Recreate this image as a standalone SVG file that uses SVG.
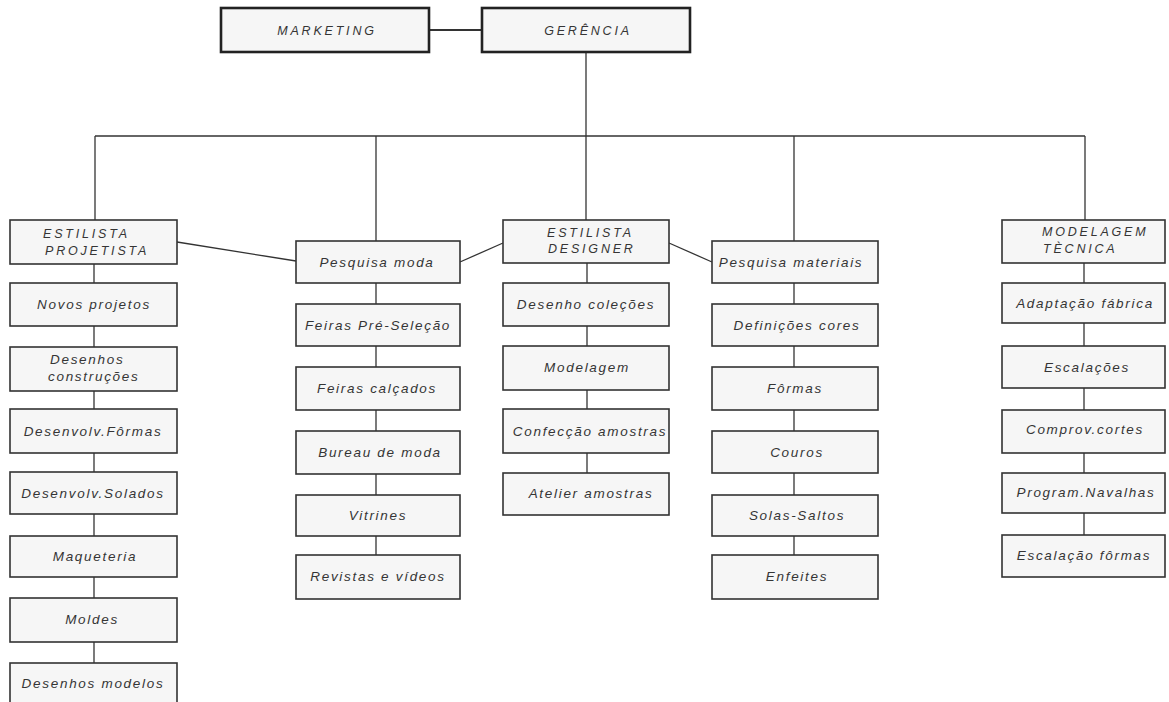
<svg xmlns="http://www.w3.org/2000/svg" width="1169" height="702" viewBox="0 0 1169 702">
<style>
.b{fill:#f6f6f6;stroke:#333;stroke-width:1.6}
.h{fill:#f6f6f6;stroke:#222;stroke-width:2.6}
.t{font-family:"Liberation Sans",Arial,sans-serif;font-style:italic;font-size:13.5px;fill:#353535;text-anchor:middle;letter-spacing:1.7px}
.c{font-family:"Liberation Sans",Arial,sans-serif;font-style:italic;font-size:12.5px;fill:#353535;text-anchor:middle;letter-spacing:2.8px}
.s{text-anchor:start}
.l{fill:none;stroke:#333;stroke-width:1.3}
</style>
<rect width="1169" height="702" fill="#fff"/>
<g id="connectors" class="l">
<line x1="429" y1="30" x2="482" y2="30" stroke-width="2"/>
<line x1="586" y1="52" x2="586" y2="136"/>
<line x1="95" y1="136" x2="1085" y2="136"/>
<line x1="95" y1="136" x2="95" y2="220"/>
<line x1="376" y1="136" x2="376" y2="241"/>
<line x1="586" y1="136" x2="586" y2="220"/>
<line x1="794" y1="136" x2="794" y2="241"/>
<line x1="1085" y1="136" x2="1085" y2="220"/>
<line x1="177" y1="242" x2="296" y2="261"/>
<line x1="460" y1="262" x2="503" y2="243"/>
<line x1="669" y1="243" x2="712" y2="262"/>
<line x1="94" y1="263" x2="94" y2="663"/>
<line x1="376" y1="283" x2="376" y2="556"/>
<line x1="587" y1="263" x2="587" y2="473"/>
<line x1="794" y1="283" x2="794" y2="556"/>
<line x1="1084" y1="263" x2="1084" y2="535"/>
</g>
<g id="marketing"><rect class="h" x="221" y="8" width="208" height="44"/><text class="c" x="327" y="35">MARKETING</text></g>
<g id="gerencia"><rect class="h" x="482" y="8" width="208" height="44"/><text class="c" x="588" y="35">GERÊNCIA</text></g>

<g id="estilista-projetista"><rect class="b" x="10" y="220" width="167" height="44"/><text class="c s" x="43" y="238">ESTILISTA</text><text class="c s" x="45" y="255">PROJETISTA</text></g>
<g id="novos-projetos"><rect class="b" x="10" y="283" width="167" height="43"/><text class="t" x="94" y="309">Novos projetos</text></g>
<g id="desenhos-construcoes"><rect class="b" x="10" y="347" width="167" height="44"/><text class="t s" x="50" y="364">Desenhos</text><text class="t s" x="48" y="381">construções</text></g>
<g id="desenvolv-formas"><rect class="b" x="10" y="409" width="167" height="44"/><text class="t" x="93" y="436">Desenvolv.Fôrmas</text></g>
<g id="desenvolv-solados"><rect class="b" x="10" y="472" width="167" height="42"/><text class="t" x="93" y="498">Desenvolv.Solados</text></g>
<g id="maqueteria"><rect class="b" x="10" y="536" width="167" height="41"/><text class="t" x="95" y="561">Maqueteria</text></g>
<g id="moldes"><rect class="b" x="10" y="598" width="167" height="44"/><text class="t" x="92" y="624">Moldes</text></g>
<g id="desenhos-modelos"><rect class="b" x="10" y="663" width="167" height="45"/><text class="t" x="93" y="688">Desenhos modelos</text></g>

<g id="pesquisa-moda"><rect class="b" x="296" y="241" width="164" height="42"/><text class="t" x="377" y="267">Pesquisa moda</text></g>
<g id="feiras-pre-selecao"><rect class="b" x="296" y="304" width="164" height="42"/><text class="t" x="378" y="330">Feiras Pré-Seleção</text></g>
<g id="feiras-calcados"><rect class="b" x="296" y="367" width="164" height="43"/><text class="t" x="377" y="393">Feiras calçados</text></g>
<g id="bureau-de-moda"><rect class="b" x="296" y="431" width="164" height="43"/><text class="t" x="380" y="457">Bureau de moda</text></g>
<g id="vitrines"><rect class="b" x="296" y="495" width="164" height="41"/><text class="t" x="378" y="520">Vitrines</text></g>
<g id="revistas-e-videos"><rect class="b" x="296" y="555" width="164" height="44"/><text class="t" x="378" y="581">Revistas e vídeos</text></g>

<g id="estilista-designer"><rect class="b" x="503" y="220" width="166" height="43"/><text class="c s" x="547" y="237">ESTILISTA</text><text class="c s" x="548" y="253">DESIGNER</text></g>
<g id="desenho-colecoes"><rect class="b" x="503" y="283" width="166" height="43"/><text class="t" x="586" y="309">Desenho coleções</text></g>
<g id="modelagem"><rect class="b" x="503" y="346" width="166" height="44"/><text class="t" x="587" y="372">Modelagem</text></g>
<g id="confeccao-amostras"><rect class="b" x="503" y="409" width="166" height="44"/><text class="t" x="590" y="436">Confecção amostras</text></g>
<g id="atelier-amostras"><rect class="b" x="503" y="473" width="166" height="42"/><text class="t" x="591" y="498">Atelier amostras</text></g>

<g id="pesquisa-materiais"><rect class="b" x="712" y="241" width="166" height="42"/><text class="t" x="791" y="267">Pesquisa materiais</text></g>
<g id="definicoes-cores"><rect class="b" x="712" y="304" width="166" height="42"/><text class="t" x="797" y="330">Definições cores</text></g>
<g id="formas"><rect class="b" x="712" y="367" width="166" height="43"/><text class="t" x="795" y="393">Fôrmas</text></g>
<g id="couros"><rect class="b" x="712" y="431" width="166" height="42"/><text class="t" x="797" y="457">Couros</text></g>
<g id="solas-saltos"><rect class="b" x="712" y="495" width="166" height="41"/><text class="t" x="797" y="520">Solas-Saltos</text></g>
<g id="enfeites"><rect class="b" x="712" y="555" width="166" height="44"/><text class="t" x="797" y="581">Enfeites</text></g>

<g id="modelagem-tecnica"><rect class="b" x="1002" y="220" width="163" height="43"/><text class="c s" x="1042" y="236">MODELAGEM</text><text class="c s" x="1043" y="253">TÈCNICA</text></g>
<g id="adaptacao-fabrica"><rect class="b" x="1002" y="283" width="163" height="40"/><text class="t" x="1085" y="308">Adaptação fábrica</text></g>
<g id="escalacoes"><rect class="b" x="1002" y="346" width="163" height="42"/><text class="t" x="1087" y="372">Escalações</text></g>
<g id="comprov-cortes"><rect class="b" x="1002" y="410" width="163" height="43"/><text class="t" x="1085" y="434">Comprov.cortes</text></g>
<g id="program-navalhas"><rect class="b" x="1002" y="473" width="163" height="40"/><text class="t" x="1086" y="497">Program.Navalhas</text></g>
<g id="escalacao-formas"><rect class="b" x="1002" y="535" width="163" height="42"/><text class="t" x="1084" y="560">Escalação fôrmas</text></g>
</svg>
